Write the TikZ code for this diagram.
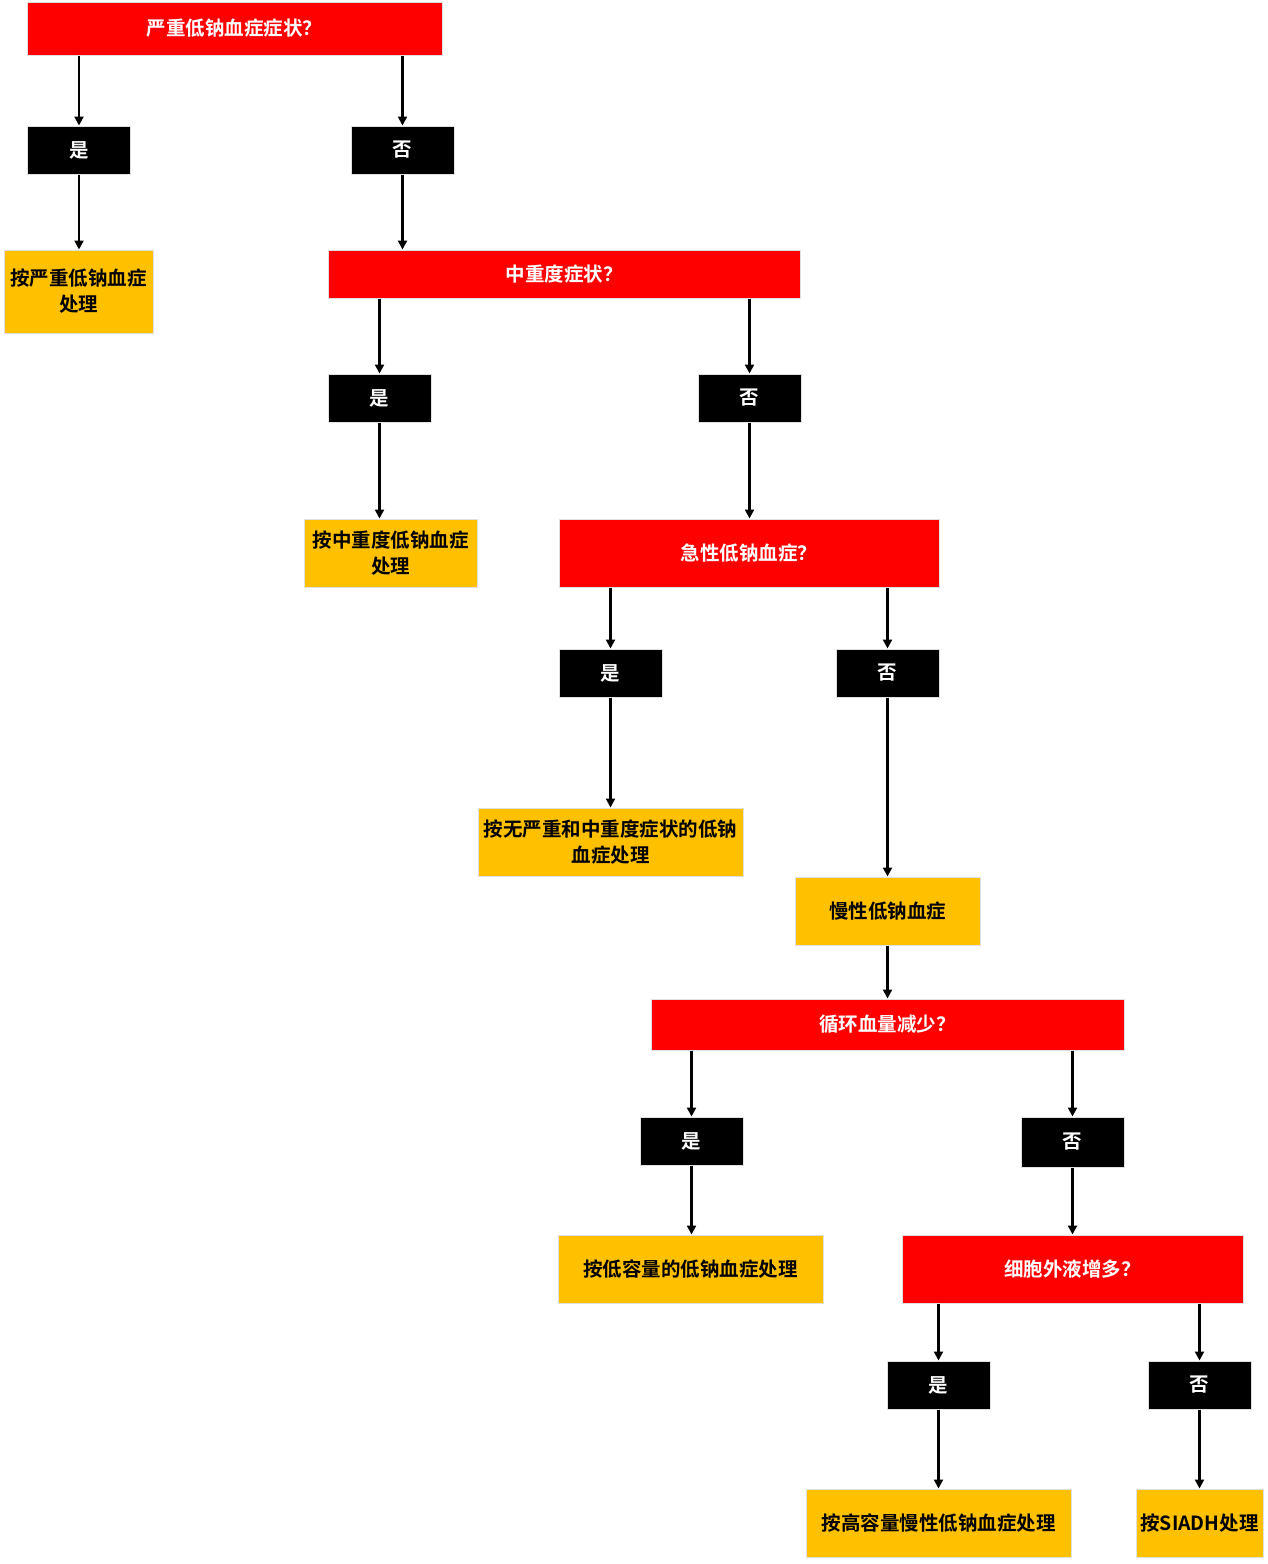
\documentclass[tikz,border=0pt]{standalone}
\usepackage{fontspec}
\setmainfont{Noto Sans CJK SC Bold}
\newfontfamily\cjkb{Noto Sans CJK SC Bold}
\usetikzlibrary{arrows.meta}
\begin{document}
\begin{tikzpicture}[x=1pt,y=-1pt,
  base/.style={rectangle, inner sep=0pt, draw=black!12, line width=1pt, align=center,
    font=\cjkb\fontsize{19.5}{26}\selectfont},
  qbox/.style={base, fill=red, text=white},
  ybox/.style={base, fill=black, text=white, minimum width=103pt, minimum height=48pt},
  obox/.style={base, fill={rgb,255:red,255;green,192;blue,0}, text=black},
  arr/.style={line width=2.2pt, -{Triangle[width=9pt,length=9pt]}}
]
\useasboundingbox (0,0) rectangle (1267,1564);
% level 1
\node[qbox, minimum width=415pt, minimum height=53pt] (q1) at (234.5,28.5) {严重低钠血症症状？};
\node[ybox] (y1) at (79,150) {是};
\node[ybox] (n1) at (402.5,150) {否};
\node[obox, minimum width=149pt, minimum height=83pt] (o1) at (78.5,291.5) {按严重低钠血症\\处理};
% level 2
\node[qbox, minimum width=472pt, minimum height=48pt] (q2) at (564,274) {中重度症状？};
\node[ybox] (y2) at (379.5,398) {是};
\node[ybox] (n2) at (749.5,398) {否};
\node[obox, minimum width=173pt, minimum height=68pt] (o2) at (390.5,553) {按中重度低钠血症\\处理};
% level 3
\node[qbox, minimum width=380pt, minimum height=68pt] (q3) at (749,553) {急性低钠血症？};
\node[ybox] (y3) at (610.5,673) {是};
\node[ybox] (n3) at (887.5,673) {否};
\node[obox, minimum width=265pt, minimum height=68pt] (o3) at (610.5,842) {按无严重和中重度症状的低钠\\血症处理};
\node[obox, minimum width=185pt, minimum height=68pt] (o4) at (887.5,911) {慢性低钠血症};
% level 4
\node[qbox, minimum width=473pt, minimum height=51pt] (q4) at (887.5,1024.5) {循环血量减少？};
\node[ybox] (y4) at (691.5,1141) {是};
\node[ybox, minimum height=50pt] (n4) at (1072.5,1142) {否};
\node[obox, minimum width=265pt, minimum height=68pt] (o5) at (690.5,1269) {按低容量的低钠血症处理};
\node[qbox, minimum width=341pt, minimum height=68pt] (q5) at (1072.5,1269) {细胞外液增多？};
% level 5
\node[ybox] (y5) at (938.5,1385) {是};
\node[ybox] (n5) at (1199.5,1385) {否};
\node[obox, minimum width=265pt, minimum height=68pt] (o6) at (938.5,1523) {按高容量慢性低钠血症处理};
\node[obox, minimum width=127pt, minimum height=68pt] (o7) at (1199.5,1523) {按SIADH处理};
% connectors
\draw[arr] (q1.south -| y1) -- (y1.north);
\draw[arr] (q1.south -| n1) -- (n1.north);
\draw[arr] (y1.south) -- (y1 |- o1.north);
\draw[arr] (n1.south) -- (n1 |- q2.north);
\draw[arr] (q2.south -| y2) -- (y2.north);
\draw[arr] (q2.south -| n2) -- (n2.north);
\draw[arr] (y2.south) -- (y2 |- o2.north);
\draw[arr] (n2.south) -- (n2 |- q3.north);
\draw[arr] (q3.south -| y3) -- (y3.north);
\draw[arr] (q3.south -| n3) -- (n3.north);
\draw[arr] (y3.south) -- (y3 |- o3.north);
\draw[arr] (n3.south) -- (n3 |- o4.north);
\draw[arr] (o4.south) -- (o4 |- q4.north);
\draw[arr] (q4.south -| y4) -- (y4.north);
\draw[arr] (q4.south -| n4) -- (n4.north);
\draw[arr] (y4.south) -- (y4 |- o5.north);
\draw[arr] (n4.south) -- (n4 |- q5.north);
\draw[arr] (q5.south -| y5) -- (y5.north);
\draw[arr] (q5.south -| n5) -- (n5.north);
\draw[arr] (y5.south) -- (y5 |- o6.north);
\draw[arr] (n5.south) -- (n5 |- o7.north);
\end{tikzpicture}
\end{document}
